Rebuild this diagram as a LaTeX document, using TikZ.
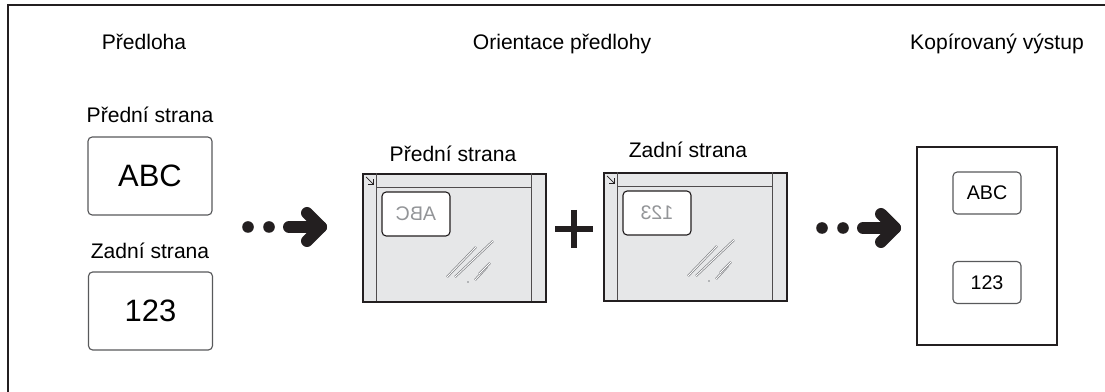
\documentclass[tikz,border=0pt]{standalone}
\usepackage{fontspec}
\setmainfont{Liberation Sans}
\usepackage{graphicx}

\definecolor{inkdark}{HTML}{231F20}
\definecolor{glassgray}{HTML}{E6E7E8}
\definecolor{edgegray}{HTML}{58595B}
\definecolor{mirrorgray}{HTML}{939598}
\definecolor{glaregray}{HTML}{808285}

\begin{document}
\begin{tikzpicture}[x=0.025cm, y=-0.025cm,
    heading/.style={font=\fontsize{15}{18}\selectfont, anchor=base, inner sep=0pt},
    card/.style={draw=edgegray, line width=0.8pt, rounded corners=3pt, fill=white, minimum width=3.1cm, minimum height=1.95cm, inner sep=0pt, font=\fontsize{22}{26}\selectfont},
    smallcard/.style={card, minimum width=1.7cm, minimum height=1.05cm, font=\fontsize{14}{17}\selectfont},
    mirrorcard/.style={smallcard, draw=inkdark, minimum height=1.1cm, text=mirrorgray},
    sheet/.style={draw=inkdark, line width=1.5pt, minimum width=3.5cm, minimum height=4.95cm, inner sep=0pt},
    glass/.style={draw=inkdark, line width=1.4pt, fill=glassgray, minimum width=4.575cm, minimum height=3.2cm, inner sep=0pt},
    strip/.style={draw=inkdark!80, line width=0.6pt},
    glare/.style={draw=glaregray, double=white, double distance=0.6pt, line width=0.5pt},
    dot/.style={circle, fill=inkdark, inner sep=0pt, minimum size=0.29cm},
    bigarrow/.style={draw=inkdark, line width=0.3cm, line cap=round, line join=round}]
    \useasboundingbox (0,0) rectangle (1105,392);

    % Frame
    \draw[inkdark, line width=1.4pt] (8,392) |- (1105,5);

    % Column headings
    \node[heading] (hOrig) at (144,50) {Předloha};
    \node[heading] (hGlass) at (562,50) {Orientace předlohy};
    \node[heading] (hCopy) at (997,50) {Kopírovaný výstup};

    % Original sheets
    \node[heading] (origFrontCap) at (150,123) {Přední strana};
    \node[card] (origFront) at (150,176) {ABC};
    \node[heading] (origBackCap) at (150,259) {Zadní strana};
    \node[card] (origBack) at (150.5,311) {123};

    % Document glass, front and back
    \foreach \gx/\gy/\gid/\gtxt/\gcap/\gcx/\gcy in {362/173/glassA/ABC/Přední strana/453/162, 603/172/glassB/123/Zadní strana/688/158} {
        \node[heading] (\gid Cap) at (\gcx,\gcy) {\gcap};
        \node[glass, anchor=north west] (\gid) at (\gx,\gy) {};
        \draw[strip] (\gx+14,\gy) -- (\gx+14,\gy+128);
        \draw[strip] (\gx+169,\gy) -- (\gx+169,\gy+128);
        \draw[strip] (\gx+14,\gy+14) -- (\gx+169,\gy+14);
        \draw[inkdark, line width=0.5pt] (\gx+4,\gy+4) -- (\gx+11,\gy+11);
        \draw[inkdark, line width=0.5pt] (\gx+6,\gy+11) -- (\gx+11,\gy+11) -- (\gx+11,\gy+6);
        \node[mirrorcard] (\gid Doc) at (\gx+54,\gy+41) {\reflectbox{\gtxt}};
        \draw[glare] (\gx+85,\gy+104) -- (\gx+114,\gy+74);
        \draw[glare] (\gx+93,\gy+104) -- (\gx+131,\gy+68);
        \draw[glare] (\gx+113,\gy+107) -- (\gx+125,\gy+94);
        \draw[glare] (\gx+117,\gy+101) -- (\gx+128,\gy+90);
        \fill[glaregray] (\gx+106,\gy+109) circle (0.6pt);
    }

    % Plus sign
    \coordinate (plus) at (574,229);
    \draw[inkdark, line width=4.3pt] (555,229) -- (593,229);
    \draw[inkdark, line width=4.3pt] (574,210) -- (574,248);

    % Dotted arrows
    \foreach \ax/\ay/\aid in {248/227/arrA, 822/228/arrB} {
        \node[dot] (\aid Dot1) at (\ax,\ay) {};
        \node[dot] (\aid Dot2) at (\ax+21,\ay) {};
        \coordinate (\aid Start) at (\ax+41,\ay);
        \coordinate (\aid Tip) at (\ax+73,\ay);
        \draw[bigarrow] (\aid Start) -- (\aid Tip);
        \draw[bigarrow] (\ax+59,\ay-14) -- (\aid Tip) -- (\ax+59,\ay+14);
    }

    % Copied output
    \node[sheet] (copy) at (987,246) {};
    \node[smallcard] (copyFront) at (987,193) {ABC};
    \node[smallcard] (copyBack) at (987,282.5) {123};
\end{tikzpicture}
\end{document}
